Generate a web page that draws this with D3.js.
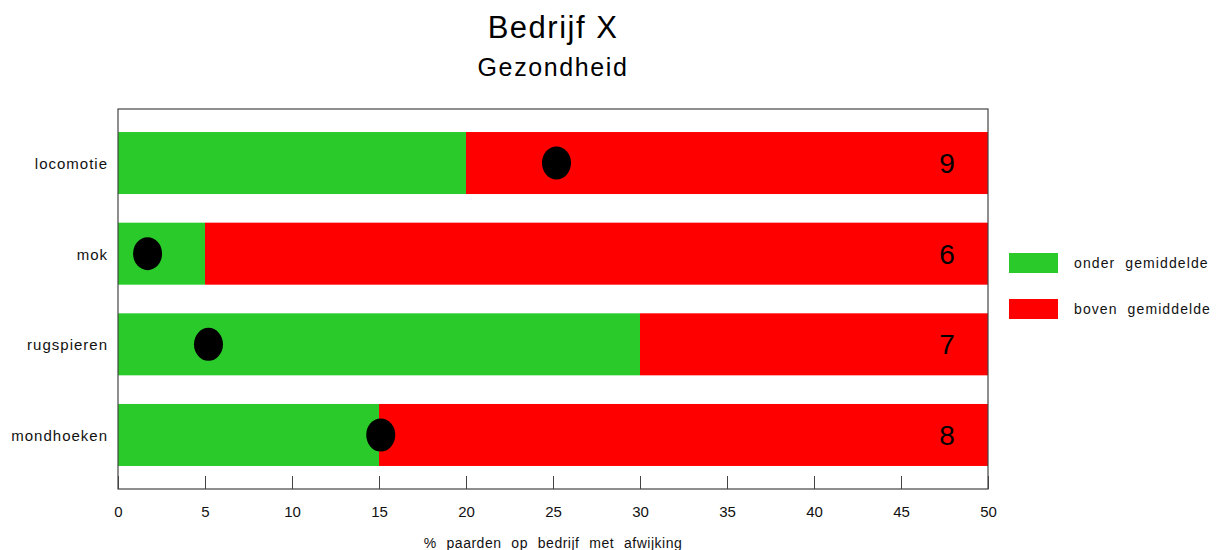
<!DOCTYPE html>
<html><head><meta charset="utf-8">
<script src="https://cdn.jsdelivr.net/npm/d3@7"></script>
<style>body{margin:0;background:#fff;} text{font-family:"Liberation Sans",Arial,sans-serif;}</style>
</head><body>
<svg id="c" width="1221" height="550"></svg>
<script>
const categories = ["locomotie", "mok", "rugspieren", "mondhoeken"];
const belowAvg = [20, 5, 30, 15];
const totalMax = [50, 50, 50, 50];
const dotValues = [25.2, 1.7, 5.2, 15.1];
const counts = [9, 6, 7, 8];
const xTicks = [0, 5, 10, 15, 20, 25, 30, 35, 40, 45, 50];
const legendLabels = ["onder  gemiddelde", "boven  gemiddelde"];
const colors = ["#2aca2a", "#ff0000"];

const svg = d3.select("#c");
const L = 118, R = 988, T = 109, B = 489;
const x = d3.scaleLinear().domain([0, 50]).range([L, R]);
const y = d3.scaleBand().domain(categories).range([T, B]).paddingInner(0.316).paddingOuter(0.254);

// title
svg.append("text").attr("x", (L+R)/2).attr("y", 38).attr("text-anchor","middle")
  .attr("font-size", 31).attr("letter-spacing", 1.5).text("Bedrijf X");
svg.append("text").attr("x", (L+R)/2).attr("y", 76).attr("text-anchor","middle")
  .attr("font-size", 25).attr("letter-spacing", 1.6).text("Gezondheid");

// bars
const g = svg.append("g");
categories.forEach((c, i) => {
  g.append("rect").attr("x", x(0)).attr("y", y(c)).attr("width", x(belowAvg[i]) - x(0))
    .attr("height", y.bandwidth()).attr("fill", colors[0]);
  g.append("rect").attr("x", x(belowAvg[i])).attr("y", y(c)).attr("width", x(totalMax[i]) - x(belowAvg[i]))
    .attr("height", y.bandwidth()).attr("fill", colors[1]);
  g.append("ellipse").attr("cx", x(dotValues[i])).attr("cy", y(c) + y.bandwidth()/2)
    .attr("rx", 14.5).attr("ry", 16.5).attr("fill", "#000");
  g.append("text").attr("x", x(47.65)).attr("y", y(c) + y.bandwidth()/2 + 10)
    .attr("text-anchor","middle").attr("font-size", 28).text(counts[i]);
  g.append("text").attr("x", L - 10).attr("y", y(c) + y.bandwidth()/2 + 6)
    .attr("text-anchor","end").attr("font-size", 15).attr("letter-spacing", 1).attr("fill","#111").text(c);
});

// box
svg.append("rect").attr("x", L).attr("y", T).attr("width", R-L).attr("height", B-T)
  .attr("fill","none").attr("stroke","#444").attr("stroke-width",1.2);

// x axis (ticks inward)
const ax = svg.append("g").attr("transform", `translate(0,${B})`)
  .call(d3.axisBottom(x).tickValues(xTicks).tickSize(-13).tickPadding(17).tickFormat(d3.format("d")));
ax.select(".domain").remove();
ax.selectAll(".tick line").attr("stroke","#444");
ax.selectAll(".tick text").attr("font-size", 15).attr("fill","#111")
  .attr("font-family","Liberation Sans, Arial, sans-serif");

svg.append("text").attr("x", (L+R)/2).attr("y", 548).attr("text-anchor","middle")
  .attr("font-size", 14).attr("letter-spacing", 0.5).attr("word-spacing", 5.5).attr("fill","#111")
  .text("% paarden op bedrijf met afwijking");

// legend
legendLabels.forEach((lab, i) => {
  const ly = 253 + i*46;
  svg.append("rect").attr("x", 1009).attr("y", ly).attr("width", 49).attr("height", 20).attr("fill", colors[i]);
  svg.append("text").attr("x", 1074).attr("y", ly + 15).attr("font-size", 14)
    .attr("letter-spacing", 1.1).attr("fill","#111").style("white-space","pre").text(lab);
});
</script>
</body></html>
